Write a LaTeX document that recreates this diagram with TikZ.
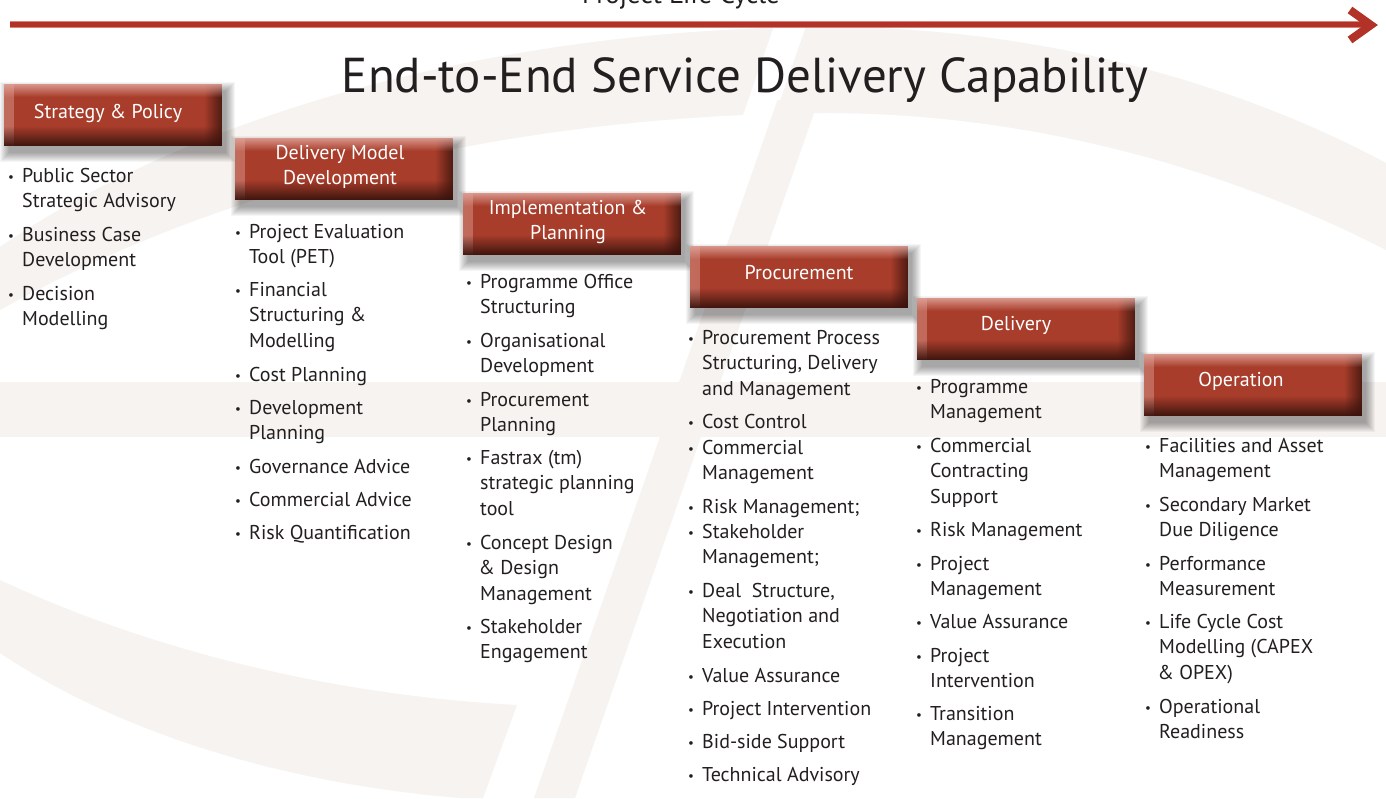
\documentclass[tikz,border=0pt]{standalone}
\usepackage{fontspec}
\setmainfont{PT Sans}
\usetikzlibrary{fadings,calc}
\definecolor{bandc}{RGB}{246,243,240}
\definecolor{arrowred}{RGB}{178,50,40}
\definecolor{arrowlight}{RGB}{214,130,120}
\definecolor{boxred}{RGB}{168,61,43}
\definecolor{boxdark}{RGB}{55,18,12}
\definecolor{boxlight}{RGB}{226,165,155}
\definecolor{txt}{RGB}{35,31,32}
\newcommand\bul{\makebox[14pt][l]{\fontsize{13}{13}\selectfont\raisebox{1pt}{•}}}
\newcommand\itm[1]{\bul\begin{tabular}[t]{@{}l@{}}#1\end{tabular}}
\newcommand\amp{\kern-1.5pt\&}
\newcommand\softshadow[1]{%
  \foreach \e in {1,...,10} {%
    \fill[black, opacity=0.04] ([shift={(6-\e,8-\e)}]#1.north west) rectangle ([shift={(3+\e,6+\e)}]#1.south east);
  }}
\tikzset{
  stepbox/.style={minimum width=218pt, minimum height=62pt, inner sep=0pt, fill=boxred,
    path picture={
      \fill[boxlight, opacity=.45, path fading=east] (path picture bounding box.north west) rectangle ([xshift=10pt]path picture bounding box.south west);
      \fill[boxdark, opacity=.8, path fading=west] ([xshift=-18pt]path picture bounding box.north east) rectangle (path picture bounding box.south east);
      \fill[boxlight, opacity=.85, path fading=south] (path picture bounding box.north west) rectangle ([yshift=-13pt]path picture bounding box.north east);
      \fill[boxdark, opacity=.95, path fading=north] ([yshift=20pt]path picture bounding box.south west) rectangle (path picture bounding box.south east);
    }},
  boxtext/.style={text=white, align=center, inner sep=0pt, font=\fontsize{20}{25.5}\selectfont},
  item/.style={anchor=base west, inner sep=0pt, text=txt, font=\fontsize{20}{25.5}\selectfont},
  title/.style={anchor=base, inner sep=0pt, text=txt, font=\fontsize{49}{52}\selectfont},
}
\begin{document}
\begin{tikzpicture}[x=1pt,y=-1pt]
\useasboundingbox (0,0) rectangle (1386,798);
\clip (0,0) rectangle (1386,798);
\fill[white] (0,0) rectangle (1386,798);
% watermark
\fill[bandc] (0,382) rectangle (1386,437);
\fill[bandc] (0,247) .. controls (200,110) and (500,30) .. (815,27) .. controls (1050,25) and (1250,90) .. (1386,163)
  -- (1386,250) .. controls (1250,180) and (1050,112) .. (820,113) .. controls (550,115) and (250,170) .. (0,310) -- cycle;
\fill[white] (742,118) -- (774,118) -- (815,0) -- (783,0) -- cycle;
\fill[bandc] (777.5,100) -- (818.5,100) -- (575,798) -- (534,798) -- cycle;
\fill[bandc] (0,580) .. controls (150,650) and (330,695) .. (517,705) -- (483,798) -- (460,798) .. controls (300,785) and (130,740) .. (0,653) -- cycle;
% life-cycle arrow
\node[anchor=base, inner sep=0pt, text=txt, font=\fontsize{27}{30}\selectfont] (plc) at (681,3) {Project Life Cycle};
\coordinate (a0) at (10,24.5);
\coordinate (a1) at (1370,24.5);
\draw[line width=7.5pt, arrowlight] (a0) -- (a1);
\draw[line width=5.5pt, arrowred] (a0) -- (a1);
\coordinate (h1) at (1350,10);
\coordinate (h2) at (1371,25);
\coordinate (h3) at (1350,40);
\draw[line width=8pt, arrowred, miter limit=10] (h1) -- (h2) -- (h3);
% title
\node[title] (title) at (745,92) {End-to-End Service Delivery Capability};
% boxes
\coordinate (c1) at (113,115);
\coordinate (c2) at (344,169);
\coordinate (c3) at (572,224);
\coordinate (c4) at (799,277);
\coordinate (c5) at (1026,329);
\coordinate (c6) at (1253,385);
\foreach \k in {1,...,6} {
  \node[minimum width=218pt, minimum height=62pt, inner sep=0pt] (s\k) at (c\k) {};
  \softshadow{s\k}
}
\node[stepbox] (b1) at (c1) {};
\node[stepbox] (b2) at (c2) {};
\node[stepbox] (b3) at (c3) {};
\node[stepbox] (b4) at (c4) {};
\node[stepbox] (b5) at (c5) {};
\node[stepbox] (b6) at (c6) {};
\node[boxtext] (b1t) at ([shift={(-5,-2)}]b1.center) {Strategy \& Policy};
\node[boxtext] (b2t) at ([shift={(-4,-2)}]b2.center) {Delivery Model\\Development};
\node[boxtext] (b3t) at ([shift={(-4,-2)}]b3.center) {Implementation \&\\Planning};
\node[boxtext] (b4t) at ([shift={(0,-4)}]b4.center) {Procurement};
\node[boxtext] (b5t) at ([shift={(-10,-4)}]b5.center) {Delivery};
\node[boxtext] (b6t) at ([shift={(-12,-4)}]b6.center) {Operation};
% column 1
\node[item] (p1) at (8,182) {\itm{Public Sector\\Strategic Advisory}};
\node[item] (p2) at (8,241) {\itm{Business Case\\Development}};
\node[item] (p3) at (8,300) {\itm{Decision\\Modelling}};
% column 2
\node[item] (d1) at (235,238) {\itm{Project Evaluation\\Tool (PET)}};
\node[item] (d2) at (235,296) {\itm{Financial\\Structuring \&\\Modelling}};
\node[item] (d3) at (235,381) {\itm{Cost Planning}};
\node[item] (d4) at (235,414) {\itm{Development\\Planning}};
\node[item] (d5) at (235,473) {\itm{Governance Advice}};
\node[item] (d6) at (235,506) {\itm{Commercial Advice}};
\node[item] (d7) at (235,539) {\itm{Risk Quantification}};
% column 3
\node[item] (i1) at (466,288) {\itm{Programme Office\\Structuring}};
\node[item] (i2) at (466,347) {\itm{Organisational\\Development}};
\node[item] (i3) at (466,406) {\itm{Procurement\\Planning}};
\node[item] (i4) at (466,464) {\itm{Fastrax (tm)\\strategic planning\\tool}};
\node[item] (i5) at (466,549) {\itm{Concept Design\\\amp{} Design\\Management}};
\node[item] (i6) at (466,633) {\itm{Stakeholder\\Engagement}};
% column 4
\node[item] (r1) at (688,344) {\itm{Procurement Process\\Structuring, Delivery\\and Management}};
\node[item] (r2) at (688,428) {\itm{Cost Control}};
\node[item] (r3) at (688,454) {\itm{Commercial\\Management}};
\node[item] (r4) at (688,513) {\itm{Risk Management;}};
\node[item] (r5) at (688,538) {\itm{Stakeholder\\Management;}};
\node[item] (r6) at (688,597) {\itm{Deal~ Structure,\\Negotiation and\\Execution}};
\node[item] (r7) at (688,682) {\itm{Value Assurance}};
\node[item] (r8) at (688,715) {\itm{Project Intervention}};
\node[item] (r9) at (688,748) {\itm{Bid-side Support}};
\node[item] (r10) at (688,781) {\itm{Technical Advisory}};
% column 5
\node[item] (v1) at (916,393) {\itm{Programme\\Management}};
\node[item] (v2) at (916,452) {\itm{Commercial\\Contracting\\Support}};
\node[item] (v3) at (916,536) {\itm{Risk Management}};
\node[item] (v4) at (916,570) {\itm{Project\\Management}};
\node[item] (v5) at (916,628) {\itm{Value Assurance}};
\node[item] (v6) at (916,662) {\itm{Project\\Intervention}};
\node[item] (v7) at (916,720) {\itm{Transition\\Management}};
% column 6
\node[item] (o1) at (1145,452) {\itm{Facilities and Asset\\Management}};
\node[item] (o2) at (1145,511) {\itm{Secondary Market\\Due Diligence}};
\node[item] (o3) at (1145,570) {\itm{Performance\\Measurement}};
\node[item] (o4) at (1145,628) {\itm{Life Cycle Cost\\Modelling (CAPEX\\\amp{} OPEX)}};
\node[item] (o5) at (1145,713) {\itm{Operational\\Readiness}};
\end{tikzpicture}
\end{document}
